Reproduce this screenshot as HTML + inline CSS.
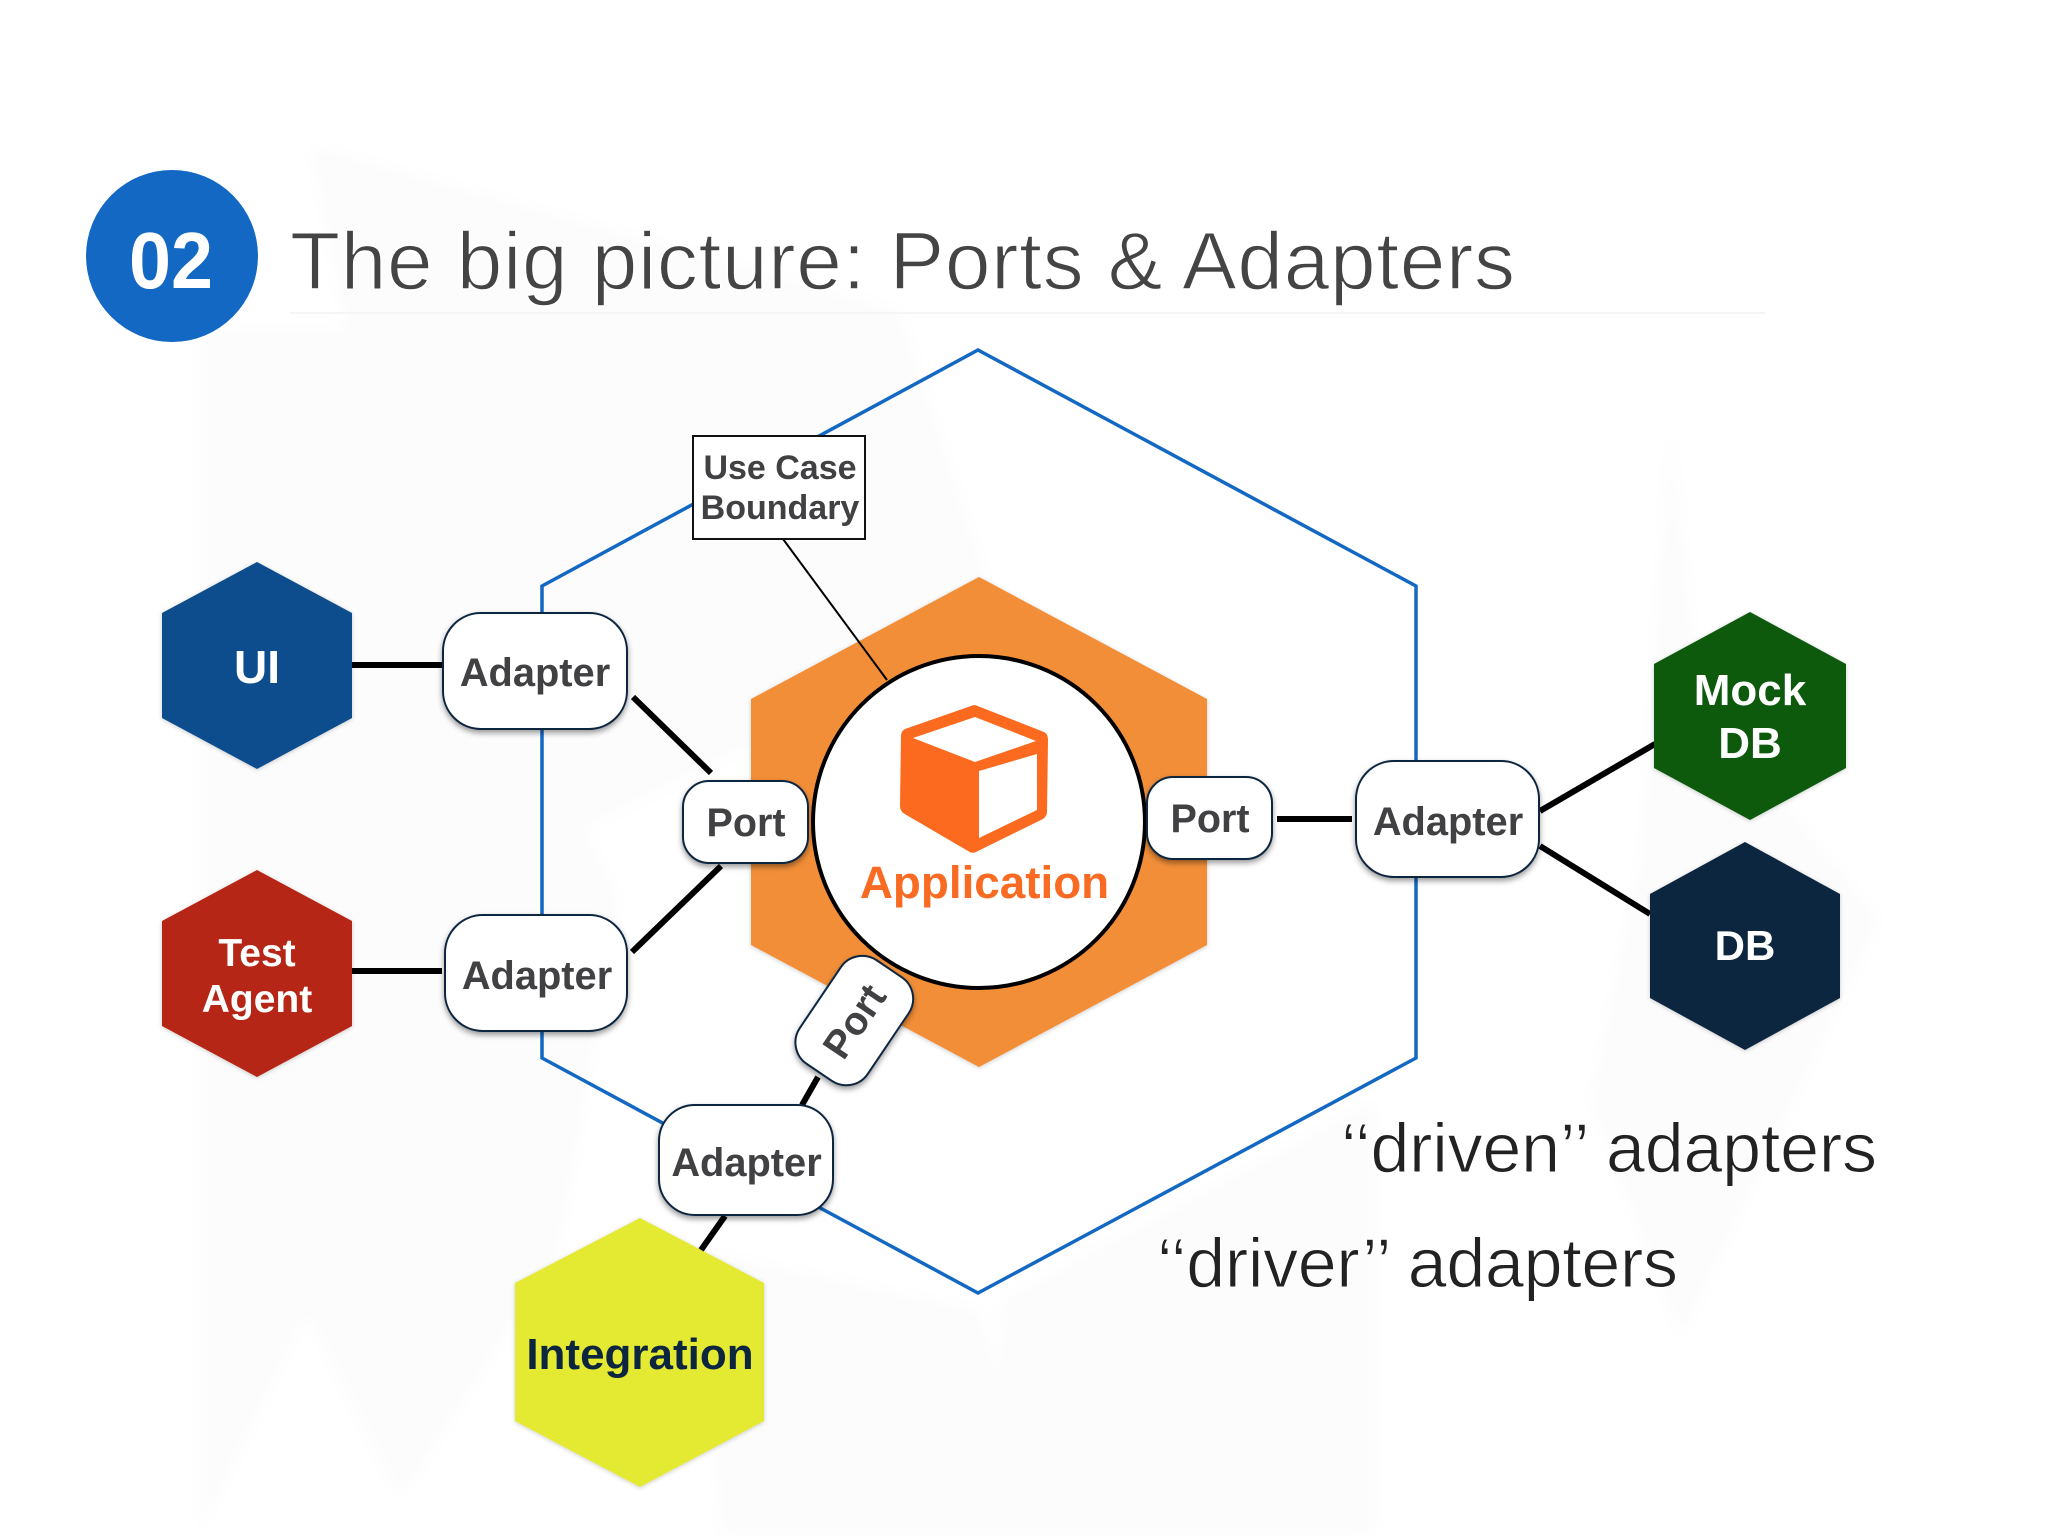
<!DOCTYPE html>
<html><head><meta charset="utf-8"><title>Ports &amp; Adapters</title>
<style>html,body{margin:0;padding:0;background:#fff}svg{display:block}text{font-family:"Liberation Sans",Arial,sans-serif}.b{font-weight:700}.n{font-weight:700;fill:#414042;font-size:39.8px;text-anchor:middle}.p{font-size:39.5px}</style></head>
<body>
<svg xmlns="http://www.w3.org/2000/svg" width="2048" height="1536" viewBox="0 0 2048 1536">
<defs>
<filter id="s" x="-20%" y="-20%" width="140%" height="140%"><feDropShadow dx="0" dy="3" stdDeviation="3" flood-color="#000" flood-opacity=".4"/></filter>
<filter id="h" x="-10%" y="-10%" width="120%" height="120%"><feDropShadow dx="0" dy="1" stdDeviation="2" flood-color="#000" flood-opacity=".2"/></filter>
<filter id="w" x="-10%" y="-10%" width="120%" height="120%"><feGaussianBlur stdDeviation="8"/></filter>
</defs>
<rect width="2048" height="1536" fill="#fff"/>
<g fill="#fcfcfd" filter="url(#w)">
<polygon points="310,145 900,310 1000,620 520,860 200,1536 200,330 345,330"/>
<polygon points="350,340 620,900 560,1250 400,1500 200,1100"/>
<polygon points="1000,1300 1375,1100 1375,1536 1000,1536"/>
<polygon points="1670,410 1640,860 1590,1100 1680,1340 1880,920 1700,700"/>
<polygon points="700,1250 980,1310 1040,1536 720,1536"/>
</g>
<text x="290" y="289" font-size="82" textLength="1225" lengthAdjust="spacing" fill="#444" stroke="#fff" stroke-width="1.4" paint-order="fill stroke">The big picture: Ports &amp; Adapters</text>
<line x1="290" y1="313" x2="1765" y2="313" stroke="#f5f5f5" stroke-width="2"/>
<circle cx="172" cy="256" r="86" fill="#1268c3"/>
<text x="171" y="288" class="b" font-size="80" fill="#fff" text-anchor="middle" textLength="84" lengthAdjust="spacingAndGlyphs">02</text>
<polygon points="978,350 1416,586 1416,1058 978,1293 542,1058 542,586" fill="none" stroke="#1268c3" stroke-width="3.500"/>
<polygon points="979,577 1207,699 1207,945 979,1067 751,945 751,699" fill="#f28e38" filter="url(#h)"/>
<g stroke="#000" stroke-linecap="butt">
<line x1="783" y1="539" x2="887" y2="680" stroke-width="2"/>
<g stroke-width="6">
<line x1="352" y1="665" x2="443" y2="665"/>
<line x1="352" y1="971" x2="442" y2="971"/>
<line x1="633" y1="697" x2="711" y2="773"/>
<line x1="632" y1="952" x2="721" y2="866"/>
<line x1="1277" y1="819" x2="1352" y2="819"/>
<line x1="1540" y1="811" x2="1655" y2="744"/>
<line x1="1540" y1="846" x2="1650" y2="914"/>
<line x1="818" y1="1077" x2="802" y2="1105"/>
<line x1="725" y1="1216" x2="701" y2="1250"/>
</g></g>
<circle cx="979" cy="822" r="166" fill="#fff" stroke="#000" stroke-width="4"/>
<path d="M975 705 L1044 732 Q1048 734 1048 740 L1047 812 Q1047 816 1043 819 L976 852 Q972 854 968 851 L903 813 Q900 810 900 806 L901 736 Q901 731 905 729 L971 706 Q973 705 975 705Z" fill="#fc6a1f"/>
<polygon points="975,717 1036,741 975,762 913,738" fill="#fff"/>
<polygon points="1037,754 1037,810 979,838 979,771" fill="#fff"/>
<text x="984.5" y="898" class="b" font-size="45.8" fill="#f96a23" text-anchor="middle">Application</text>
<rect x="693" y="436" width="172" height="103" fill="#fff" stroke="#111" stroke-width="2"/>
<text x="780" y="479" class="b" font-size="34" fill="#414042" text-anchor="middle">Use Case</text>
<text x="780" y="519" class="b" font-size="34" fill="#414042" text-anchor="middle">Boundary</text>
<g fill="#fff" stroke="#0d2640" stroke-width="2" filter="url(#s)">
<rect x="443" y="613" width="184" height="116" rx="38"/>
<rect x="445" y="915" width="182" height="116" rx="38"/>
<rect x="1356" y="761" width="183" height="116" rx="38"/>
<rect x="659" y="1105" width="174" height="110" rx="36"/>
<rect x="683" y="781" width="125" height="82" rx="26"/>
<rect x="1147" y="777" width="125" height="82" rx="26"/>
<rect x="792" y="980" width="125" height="82" rx="26" transform="rotate(-56 854 1021)"/>
</g>
<text x="535" y="686" class="n">Adapter</text>
<text x="537" y="989" class="n">Adapter</text>
<text x="1448" y="835" class="n">Adapter</text>
<text x="746.500" y="1176" class="n">Adapter</text>
<text x="746" y="836" class="n p">Port</text>
<text x="1210" y="832" class="n p">Port</text>
<text transform="translate(854 1021) rotate(-56)" x="0" y="14" class="n p">Port</text>
<g filter="url(#h)">
<polygon points="257,562 352,613 352,718 257,769 162,718 162,613" fill="#0c4d8e"/>
<polygon points="257,870 352,921 352,1026 257,1077 162,1026 162,921" fill="#b52814"/>
<polygon points="1750,612 1846,664 1846,768 1750,820 1654,768 1654,664" fill="#0b5a0e"/>
<polygon points="1745,842 1840,894 1840,998 1745,1050 1650,998 1650,894" fill="#0d2640"/>
<polygon points="640,1218 764,1283 764,1421 640,1487 515,1421 515,1283" fill="#e4e932"/>
</g>
<g class="b" fill="#fff" text-anchor="middle">
<text x="257" y="683" font-size="46">UI</text>
<text x="257" y="966" font-size="39">Test</text>
<text x="257" y="1012" font-size="39">Agent</text>
<text x="1750" y="705" font-size="44">Mock</text>
<text x="1750" y="758" font-size="44">DB</text>
<text x="1745" y="960" font-size="42">DB</text>
</g>
<text x="640" y="1369" class="b" font-size="44" fill="#0d2640" text-anchor="middle">Integration</text>
<text x="1341" y="1172" font-size="70" textLength="536" lengthAdjust="spacing" fill="#222" stroke="#fff" stroke-width="1" paint-order="fill stroke">‘‘driven’’ adapters</text>
<text x="1157" y="1287" font-size="70" textLength="521" lengthAdjust="spacing" fill="#222" stroke="#fff" stroke-width="1" paint-order="fill stroke">‘‘driver’’ adapters</text>
</svg>
</body></html>
